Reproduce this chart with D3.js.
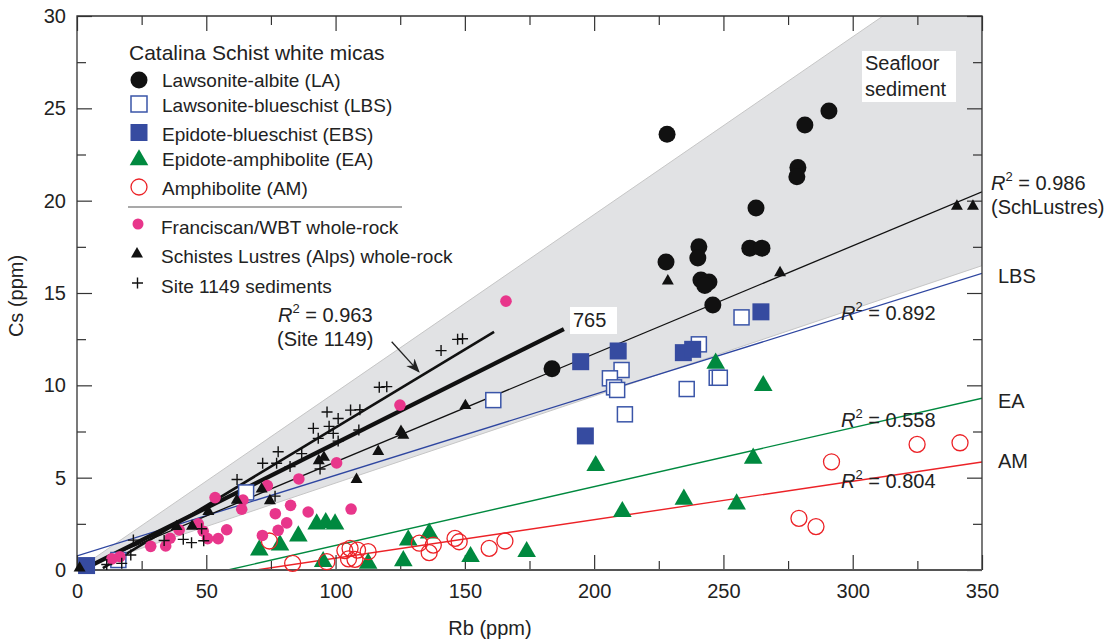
<!DOCTYPE html>
<html>
<head>
<meta charset="utf-8">
<script src="https://cdn.jsdelivr.net/npm/d3@7"></script>
<style>
body { margin: 0; background: #fff; }
svg { display: block; font-family: "Liberation Sans", Arial, sans-serif; }
</style>
</head>
<body>
<svg width="1118" height="641"></svg>
<script>
// data: [Rb, Cs] in ppm
var lawsoniteAlbite = [[228.2,23.6],[290.8,24.85],[281.5,24.1],[278.8,21.8],[278.4,21.3],[262.6,19.6],
  [260.2,17.43],[264.9,17.43],[227.8,16.68],[240.5,17.5],[240.1,16.9],[241.3,15.7],[244.4,15.6],
  [242.8,15.4],[245.9,14.35],[183.7,10.9]];
var lawsoniteBlueschist = [[257,13.68],[240.5,12.22],[210.6,10.83],[206.1,10.38],[207.7,9.89],[208.9,9.75],
  [211.9,8.43],[235.8,9.8],[247.4,10.41],[248.6,10.41],[161,9.2],[16,0.54],[65.4,4.2]];
var epidoteBlueschist = [[264.5,13.98],[209.3,11.86],[194.8,11.28],[234.5,11.77],[238.1,11.95],[196.6,7.26],[3.7,0.24]];
var epidoteAmphibolite = [[247,11.19],[265.4,9.98],[200.6,5.65],[261.5,6.05],[234.7,3.83],[255.1,3.57],[210.9,3.16],
  [92.7,2.49],[96.2,2.56],[99.8,2.49],[85.6,1.84],[70.5,1.08],[78.5,1.35],[95.2,0.45],[112.6,0.36],
  [126.2,0.5],[128.1,1.62],[136.2,1.99],[152.2,0.72],[173.9,0.99]];
var amphibolite = [[291.8,5.86],[279.2,2.8],[285.8,2.35],[341.5,6.89],[324.9,6.8],[74.4,1.57],[83.4,0.36],
  [96.6,0.45],[103.6,1.05],[105.6,1.17],[108.5,1.08],[112.6,0.99],[107.5,0.58],[105,0.6],[132.4,1.45],
  [137.8,1.35],[136.2,0.94],[146.2,1.71],[147.8,1.53],[159.4,1.17],[165.5,1.57]];
var franciscan = [[165.9,14.56],[124.9,8.93],[100.4,5.8],[85.8,4.93],[73.6,4.57],[64.2,3.79],[63.7,3.29],
  [53.4,3.92],[76.7,3.05],[82.6,3.5],[89.4,3.14],[106,3.3],[81.1,2.55],[77.8,2.15],[71.7,1.87],
  [57.9,2.18],[54.6,1.7],[50.5,1.7],[48.8,2.1],[46.9,2.5],[39.5,2.17],[36,1.72],[34.3,1.3],[28.5,1.28],
  [16.6,0.72],[13.5,0.6]];
var schistesLustres = [[346.5,19.7],[340.3,19.7],[271.9,16.1],[228.5,15.65],[150.2,8.9],[126.2,7.3],[125.3,7.5],
  [116.5,6.42],[108.1,4.9],[93.5,5.92],[95.5,6.1],[71.4,4.38],[74.6,3.75],[61.8,3.77],[50.8,3.16],
  [44.5,2.37],[38.5,2.35],[1,0.1]];
var site1149 = [[147.2,12.49],[149.1,12.52],[140.8,11.88],[116.9,9.9],[119.8,9.93],[105.8,8.66],[109.4,8.68],
  [96.7,8.56],[101,8.2],[91.4,7.67],[97.5,7.78],[99.1,7.4],[93.3,7.13],[101,6.98],[109,7.58],[77.8,6.4],
  [71.8,5.78],[77.2,5.78],[86.9,6.3],[82.4,5.6],[94,5.47],[61.9,4.9],[76.6,4.0],[48.2,2.23],[41.1,1.66],
  [44.3,1.48],[49,1.58],[33.7,1.6],[21.8,1.62],[20.8,0.81],[17.3,0.36],[11.5,0.3]];

// regression lines and the seafloor field
var seafloorBand = [[0,0],[311.7,30],[350,30],[350,16.48]];
var fitSchLustres = [[0,0],[350,20.48]];
var fitLBS = [[0,0.76],[350,16.06]];
var fitEA = [[58.4,0],[350,9.3]];
var fitAM = [[69.3,0],[350,5.85]];
var fitSite1149 = [[10,0.1],[161.3,12.9]];
var fit765 = [[2,0],[188.3,13.05]];
var arrowSite = [[121.7,12.36],[132.2,10.74]];

var xMajor = [0,50,100,150,200,250,300,350];
var xMinor = [25,75,125,175,225,275,325];
var yMajor = [0,5,10,15,20,25,30];
var yMinor = [2.5,7.5,12.5,17.5,22.5,27.5];

var svg = d3.select("svg");
var x = d3.scaleLinear().domain([0, 350]).range([77, 982]);
var y = d3.scaleLinear().domain([0, 30]).range([570, 16]);
var line = d3.line().x(function(d) { return x(d[0]); }).y(function(d) { return y(d[1]); });

svg.append("defs").append("clipPath").attr("id", "plot")
  .append("rect").attr("x", 77).attr("y", 16).attr("width", 905).attr("height", 554);
svg.select("defs").append("marker").attr("id", "arr")
  .attr("viewBox", "0 0 10 10").attr("refX", 9).attr("refY", 5)
  .attr("markerWidth", 14).attr("markerHeight", 14).attr("markerUnits", "userSpaceOnUse")
  .attr("orient", "auto")
  .append("path").attr("d", "M0,1 L10,5 L0,9 L3,5 Z").attr("fill", "#222");

var plot = svg.append("g").attr("clip-path", "url(#plot)");

plot.append("path").attr("d", line(seafloorBand) + "Z")
  .attr("fill", "#e1e2e4").attr("stroke", "#c6c6c6").attr("stroke-width", 1);

// axes, ticks inward on all four sides
function tidy(g) { g.select(".domain").remove(); g.selectAll("line").attr("stroke", "#333").attr("stroke-width", 1.2); g.selectAll("text").style("font-size", "20px").attr("fill", "#222"); }
svg.append("g").attr("transform", "translate(0,570)")
  .call(d3.axisBottom(x).tickValues(xMajor).tickSize(-15).tickPadding(14)).call(tidy);
svg.append("g").attr("transform", "translate(0,570)")
  .call(d3.axisBottom(x).tickValues(xMinor).tickSize(-9).tickFormat("")).call(tidy);
svg.append("g").attr("transform", "translate(0,16)")
  .call(d3.axisTop(x).tickValues(xMajor).tickSize(-15).tickFormat("")).call(tidy);
svg.append("g").attr("transform", "translate(0,16)")
  .call(d3.axisTop(x).tickValues(xMinor).tickSize(-9).tickFormat("")).call(tidy);
svg.append("g").attr("transform", "translate(77,0)")
  .call(d3.axisLeft(y).tickValues(yMajor).tickSize(-15).tickPadding(11)).call(tidy);
svg.append("g").attr("transform", "translate(77,0)")
  .call(d3.axisLeft(y).tickValues(yMinor).tickSize(-9).tickFormat("")).call(tidy);
svg.append("g").attr("transform", "translate(982,0)")
  .call(d3.axisRight(y).tickValues(yMajor).tickSize(-15).tickFormat("")).call(tidy);
svg.append("g").attr("transform", "translate(982,0)")
  .call(d3.axisRight(y).tickValues(yMinor).tickSize(-9).tickFormat("")).call(tidy);

svg.append("path").attr("d", "M77,570V16H982V570").attr("fill", "none").attr("stroke", "#333").attr("stroke-width", 1.3);
svg.append("line").attr("x1", 77).attr("x2", 982).attr("y1", 570).attr("y2", 570)
  .attr("stroke", "#555").attr("stroke-width", 2.2);

// fit lines
function fit(data, color, w) {
  plot.append("path").attr("d", line(data)).attr("fill", "none").attr("stroke", color).attr("stroke-width", w);
}
fit(fitEA, "#00893f", 1.4);
fit(fitAM, "#ec2227", 1.4);
fit(fitLBS, "#2e46a0", 1.3);
fit(fitSchLustres, "#111", 1.3);
fit(fitSite1149, "#111", 2.6);
fit(fit765, "#111", 4.2);

// markers
var tri = d3.symbol().type(d3.symbolTriangle);
function drawCircles(g, data, r, fill, stroke, sw) {
  g.selectAll(null).data(data).enter().append("circle")
    .attr("cx", function(d) { return x(d[0]); }).attr("cy", function(d) { return y(d[1]); })
    .attr("r", r).attr("fill", fill).attr("stroke", stroke).attr("stroke-width", sw);
}
function drawSquares(g, data, s, fill, stroke, sw) {
  g.selectAll(null).data(data).enter().append("rect")
    .attr("x", function(d) { return x(d[0]) - s / 2; }).attr("y", function(d) { return y(d[1]) - s / 2; })
    .attr("width", s).attr("height", s).attr("fill", fill).attr("stroke", stroke).attr("stroke-width", sw);
}
function drawTriangles(g, data, size, fill) {
  g.selectAll(null).data(data).enter().append("path")
    .attr("d", tri.size(size)())
    .attr("transform", function(d) { return "translate(" + x(d[0]) + "," + y(d[1]) + ")"; })
    .attr("fill", fill);
}
function drawPlus(g, data, h) {
  g.selectAll(null).data(data).enter().append("path")
    .attr("d", "M" + (-h) + ",0H" + h + "M0," + (-h) + "V" + h)
    .attr("transform", function(d) { return "translate(" + x(d[0]) + "," + y(d[1]) + ")"; })
    .attr("stroke", "#111").attr("stroke-width", 1.4).attr("fill", "none");
}

var marks = svg.append("g");
drawTriangles(marks, epidoteAmphibolite, 150, "#00893f");
drawCircles(marks, amphibolite, 8, "none", "#ec2227", 1.3);
drawSquares(marks, lawsoniteBlueschist, 15, "#fff", "#3a55a8", 1.5);
drawSquares(marks, epidoteBlueschist, 17, "#364ba0", "none", 0);
drawCircles(marks, franciscan, 5.8, "#e8368b", "none", 0);
drawPlus(marks, site1149, 5.5);
drawTriangles(marks, schistesLustres, 62, "#111");
drawCircles(marks, lawsoniteAlbite, 8.5, "#111", "none", 0);

// arrow to Site 1149 fit
svg.append("path").attr("d", line(arrowSite)).attr("stroke", "#222").attr("stroke-width", 1.3)
  .attr("fill", "none").attr("marker-end", "url(#arr)");

// annotations
var ann = svg.append("g").style("font-size", "20px").attr("fill", "#222");
function r2(px, py, val) {
  var t = ann.append("text").attr("x", px).attr("y", py);
  t.append("tspan").style("font-style", "italic").text("R");
  t.append("tspan").attr("dy", -9).style("font-size", "13px").text("2");
  t.append("tspan").attr("dy", 9).text(" = " + val);
}
ann.append("rect").attr("x", 862).attr("y", 51).attr("width", 94).attr("height", 51).attr("fill", "#fff");
ann.append("text").attr("x", 865).attr("y", 70).text("Seafloor");
ann.append("text").attr("x", 865).attr("y", 96).text("sediment");
ann.append("rect").attr("x", 570).attr("y", 307).attr("width", 47).attr("height", 27).attr("fill", "#fff");
ann.append("text").attr("x", 573).attr("y", 327).text("765");
r2(278, 322, "0.963");
ann.append("text").attr("x", 277).attr("y", 346).text("(Site 1149)");
r2(991, 190, "0.986");
ann.append("text").attr("x", 991).attr("y", 214).text("(SchLustres)");
ann.append("text").attr("x", 998).attr("y", 283).text("LBS");
r2(841, 320, "0.892");
ann.append("text").attr("x", 998).attr("y", 408).text("EA");
r2(841, 427, "0.558");
ann.append("text").attr("x", 998).attr("y", 468).text("AM");
r2(841, 488, "0.804");

svg.append("text").attr("x", 490).attr("y", 635).attr("text-anchor", "middle")
  .style("font-size", "20px").attr("fill", "#222").text("Rb (ppm)");
svg.append("text").attr("transform", "translate(23,296) rotate(-90)").attr("text-anchor", "middle")
  .style("font-size", "20px").attr("fill", "#222").text("Cs (ppm)");

// legend
var leg = svg.append("g").attr("fill", "#222");
leg.append("text").attr("x", 129).attr("y", 60).style("font-size", "21px").text("Catalina Schist white micas");
var lx = 139;
leg.append("circle").attr("cx", lx).attr("cy", 80).attr("r", 8.5).attr("fill", "#111");
leg.append("rect").attr("x", lx - 8).attr("y", 96).attr("width", 16).attr("height", 16)
  .attr("fill", "#fff").attr("stroke", "#3a55a8").attr("stroke-width", 1.5);
leg.append("rect").attr("x", lx - 8.5).attr("y", 124).attr("width", 17).attr("height", 17).attr("fill", "#364ba0");
leg.append("path").attr("d", tri.size(150)()).attr("transform", "translate(" + lx + ",160)").attr("fill", "#00893f");
leg.append("circle").attr("cx", lx).attr("cy", 187).attr("r", 8).attr("fill", "none").attr("stroke", "#ec2227").attr("stroke-width", 1.3);
leg.append("line").attr("x1", 128).attr("x2", 402).attr("y1", 207).attr("y2", 207).attr("stroke", "#555").attr("stroke-width", 1.2);
leg.append("circle").attr("cx", 138).attr("cy", 224).attr("r", 5.5).attr("fill", "#e8368b");
leg.append("path").attr("d", tri.size(62)()).attr("transform", "translate(137,254)").attr("fill", "#111");
leg.append("path").attr("d", "M132,283H143M137.5,277.5V288.5").attr("stroke", "#111").attr("stroke-width", 1.4);

var legLabels = ["Lawsonite-albite (LA)", "Lawsonite-blueschist (LBS)", "Epidote-blueschist (EBS)",
  "Epidote-amphibolite (EA)", "Amphibolite (AM)"];
var legLabels2 = ["Franciscan/WBT whole-rock", "Schistes Lustres (Alps) whole-rock", "Site 1149 sediments"];
var legY = [87, 112, 141, 166, 195];
var legY2 = [234, 263, 293];
legLabels.forEach(function(t, i) {
  leg.append("text").attr("x", 162).attr("y", legY[i]).style("font-size", "19px").text(t);
});
legLabels2.forEach(function(t, i) {
  leg.append("text").attr("x", 161).attr("y", legY2[i]).style("font-size", "19px").text(t);
});
</script>
</body>
</html>
